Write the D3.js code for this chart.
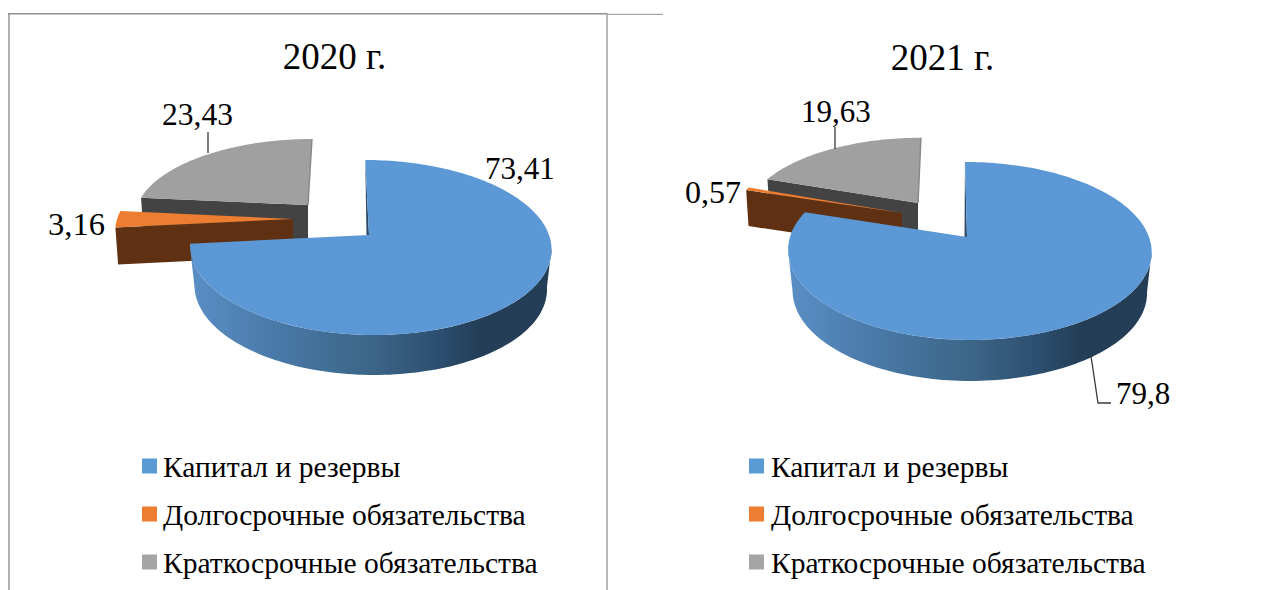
<!DOCTYPE html>
<html><head><meta charset="utf-8">
<script src="https://cdn.jsdelivr.net/npm/d3@7/dist/d3.min.js"></script>
<style>html,body{margin:0;background:#fff}svg{display:block}text{font-family:"Liberation Serif",serif;fill:#000}</style>
</head><body><svg id="c" width="1270" height="590"></svg>
<script>
const categories = ["Капитал и резервы","Долгосрочные обязательства","Краткосрочные обязательства"];
const years = ["2020 г.","2021 г."];
const values2020 = [73.41,3.16,23.43];
const values2021 = [79.8,0.57,19.63];
const labels2020 = ["73,41","3,16","23,43"];
const labels2021 = ["79,8","0,57","19,63"];

const topColors = ["#5b98d5","#ed7d31","#a0a0a0"];
const legendColors = ["#5b9bd5","#ed7d31","#a5a5a5"];
const wallColors = ["url(#wallBlue)","#5f3112","#434343"];

const layouts = [
 {values:values2020,labels:labels2020,title:years[0],titleX:334.5,titleY:68.5,
  cx:369,cy:235,rxL:177.7,rxR:180,ry:85.7,k:.143,
  slices:[{dx:0,dy:0,sx:1,sy:1,skew:.05,depth:40},
          {dx:-76,dy:-16,sx:.99,sy:.975,skew:0,depth:37},
          {dx:-61,dy:-30,sx:.96,sy:.88,skew:-.06,depth:36}],
  labelPos:[[485,178.5],[48,234.5],[162,125]],labelSize:[31,32.5,31.5],
  leaders:[null,null,[[208,153],[208,132]]],
  legendX:142,textX:163},
 {values:values2021,labels:labels2021,title:years[1],titleX:942.5,titleY:69.5,
  cx:967,cy:237,rxL:177,rxR:182,ry:86.8,k:.157,
  slices:[{dx:0,dy:0,sx:1,sy:1,skew:.027,depth:41},
          {dx:-65,dy:-24,sx:.965,sy:.93,skew:0,depth:36},
          {dx:-49,dy:-34,sx:.955,sy:.87,skew:-.045,depth:36}],
  labelPos:[[1116,404],[685,203],[801,122]],labelSize:[31,32,31],
  leaders:[[[1091,356],[1098,403],[1111,403]],null,[[835,149],[835,127]]],
  legendX:749,textX:771}
];

const svg = d3.select("#c");
const grad = svg.append("defs").append("linearGradient").attr("id","wallBlue").attr("x1",0).attr("x2",1).attr("y1",0).attr("y2",0);
[[0,"#5a8fc5"],[.25,"#4878a6"],[.5,"#3c6688"],[.7,"#2c4d6d"],[.8,"#233e56"],[1,"#233e56"]]
 .forEach(s=>grad.append("stop").attr("offset",s[0]).attr("stop-color",s[1]));

// frame
const frame = svg.append("g").attr("fill","none");
frame.append("path").attr("d","M9 590V13").attr("stroke","#b0b0b0").attr("stroke-width",2);
frame.append("path").attr("d","M8 13.8H607").attr("stroke","#8f8f8f").attr("stroke-width",1.4);
frame.append("path").attr("d","M607 13V590").attr("stroke","#a0a0a0").attr("stroke-width",1.5);
frame.append("path").attr("d","M607 14.4H663").attr("stroke","#a8a8a8").attr("stroke-width",1.2);

const line = d3.line();
const rad = d=>d*Math.PI/180;

layouts.forEach(L=>{
  const g = svg.append("g");
  const arcs = d3.pie().sort(null)(L.values);

  g.append("text").attr("x",L.titleX).attr("y",L.titleY).attr("text-anchor","middle").attr("font-size",37).text(L.title);

  const draw = i=>{
    const a = arcs[i], s = L.slices[i];
    const ax = L.cx+s.dx, ay = L.cy+s.dy;
    const xs = d3.scaleLinear().domain([-1,0,1]).range([ax-L.rxL*s.sx,ax,ax+L.rxR*s.sx]);
    const ys = d3.scaleLinear().domain([-1,1]).range([ay+L.ry*s.sy,ay-L.ry*s.sy]);
    const proj = t=>{
      const u=Math.sin(t),v=Math.cos(t),w=1+L.k*v;
      const y=ys(v/w);
      return [xs(u/w)+s.skew*(y-ay),y];
    };
    const down = (p,d)=>[ax+(p[0]-ax)*(i===0?.975:.985), p[1]+d];
    const sample = (t0,t1)=>{
      const n=Math.max(2,Math.ceil((t1-t0)/rad(1.5)));
      return d3.range(n+1).map(j=>proj(t0+(t1-t0)*j/n));
    };
    const apex=[ax,ay];
    // walls: the rim runs between the two silhouette points of the projected circle
    if(i===0){
      const ext=Math.acos(-L.k);
      const t0=Math.max(a.startAngle,ext), t1=Math.min(a.endAngle,2*Math.PI-ext);
      const rim=sample(t0,t1);
      g.append("path").attr("d",line(rim.concat(rim.slice().reverse().map(p=>down(p,s.depth))))+"Z").attr("fill",wallColors[0]);
      const top=proj(a.startAngle);
      g.append("path").attr("d",line([top,apex,[apex[0]-2.5,apex[1]]])+"Z").attr("fill","#2a4a68");
    } else {
      const st=proj(a.startAngle);
      g.append("path").attr("d",line([st,apex,down(apex,s.depth),down(st,s.depth)])+"Z").attr("fill",wallColors[i]);
    }
    // top face
    g.append("path").attr("d",line([apex].concat(sample(a.startAngle,a.endAngle)))+"Z").attr("fill",topColors[i]);
    if(i===2){
      g.append("path").attr("d",line([apex,proj(a.endAngle)])).attr("stroke","#8a8a8a").attr("stroke-width",1.5).attr("fill","none");
    }
  };
  [2,1,0].forEach(draw);

  // labels and leaders
  L.labels.forEach((t,i)=>{
    g.append("text").attr("x",L.labelPos[i][0]).attr("y",L.labelPos[i][1]).attr("font-size",L.labelSize[i]).text(t);
    if(L.leaders[i]) g.append("path").attr("d",line(L.leaders[i])).attr("fill","none").attr("stroke","#3a3a3a").attr("stroke-width",1.3);
  });

  // legend
  categories.forEach((c,i)=>{
    const y=459+48*i;
    g.append("rect").attr("x",L.legendX).attr("y",y-.5).attr("width",15).attr("height",15).attr("fill",legendColors[i]);
    g.append("text").attr("x",L.textX).attr("y",y+18.3).attr("font-size",29.55).text(c);
  });
});
</script></body></html>
